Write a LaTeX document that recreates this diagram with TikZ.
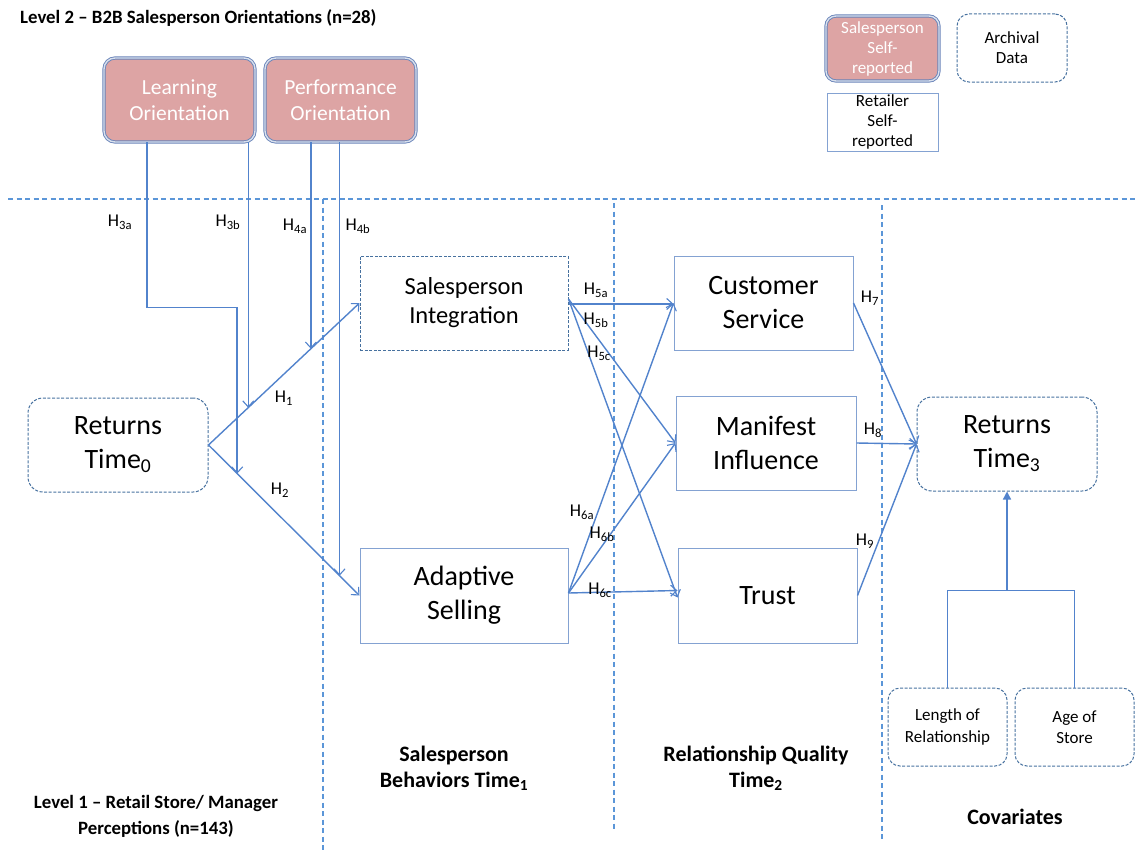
\documentclass[tikz,border=0pt]{standalone}
\usepackage{fontspec}
\setmainfont{Carlito}
\usetikzlibrary{arrows.meta,calc}

\definecolor{lineblue}{HTML}{5283CC}
\definecolor{sepblue}{HTML}{5B96D8}
\definecolor{boxblue}{HTML}{47719F}
\definecolor{thinblue}{HTML}{84A2D2}
\definecolor{pinkfill}{HTML}{DDA4A4}
\definecolor{rimblue}{HTML}{6883B8}

\tikzset{
  sepline/.style={draw=sepblue, line width=1.2pt, dash pattern=on 5pt off 3.5pt},
  dashbox/.style={draw=boxblue, line width=1pt, dash pattern=on 3pt off 1.6pt,
                  align=center, inner sep=0pt},
  plainbox/.style={draw=thinblue, line width=1pt, align=center, inner sep=0pt},
  pinkbox/.style={fill=pinkfill, draw=rimblue, line width=0.9pt,
                  double=rimblue!25, double distance=1.4pt, rounded corners=11pt,
                  text=white, align=center, inner sep=0pt},
  link/.style={draw=lineblue, line width=1.4pt,
               -{Straight Barb[length=6pt,width=11pt,line width=1.1pt]}},
  plainlink/.style={draw=lineblue, line width=1.4pt},
  hyp/.style={font=\fontsize{18}{21}\selectfont, inner sep=0pt},
  bigtxt/.style={font=\fontsize{28}{34}\selectfont},
  midtxt/.style={font=\fontsize{24.5}{29}\selectfont},
  orienttxt/.style={font=\fontsize{21.5}{26}\selectfont},
  smalltxt/.style={font=\fontsize{17}{20}\selectfont},
  headtxt/.style={font=\bfseries\fontsize{18.8}{26}\selectfont, align=center, inner sep=0pt},
  coltxt/.style={font=\bfseries\fontsize{22}{26}\selectfont, align=center, inner sep=0pt},
}

\begin{document}
\begin{tikzpicture}[x=1pt, y=-1pt]
\useasboundingbox (0,0) rectangle (1137,851);

% level and time separators
\draw[sepline] (8,199) -- (1137,199);
\draw[sepline] (323,199) -- (323,851);
\draw[sepline] (614,203) -- (614,830);
\draw[sepline] (882,205) -- (882,840);

% headings
\node[headtxt, anchor=west] (lvltwo) at (20,18) {Level 2 -- B2B Salesperson Orientations (n=28)};
\node[headtxt] (lvlone) at (156,816) {Level 1 -- Retail Store/ Manager\\Perceptions (n=143)};
\node[coltxt] (behav) at (454,768) {Salesperson\\Behaviors Time\textsubscript{1}};
\node[coltxt] (relq) at (756,768) {Relationship Quality\\Time\textsubscript{2}};
\node[coltxt] (covar) at (1015,817) {Covariates};

% legend
\node[pinkbox, smalltxt, minimum width=113pt, minimum height=65pt, rounded corners=10pt] (legsp) at (882.5,48.5) {Salesperson\\Self-\\reported};
\node[dashbox, smalltxt, minimum width=110pt, minimum height=68pt, rounded corners=12pt] (legarch) at (1012,48) {Archival\\Data};
\node[plainbox, smalltxt, minimum width=111pt, minimum height=58pt] (legret) at (882.5,122) {Retailer\\Self-\\reported};

% level 2 constructs
\node[pinkbox, orienttxt, minimum width=151pt, minimum height=84pt] (learn) at (179.5,100) {Learning\\Orientation};
\node[pinkbox, orienttxt, minimum width=151pt, minimum height=84pt] (perf) at (340.5,100) {Performance\\Orientation};

% level 1 constructs
\node[dashbox, bigtxt, minimum width=180pt, minimum height=94pt, rounded corners=15pt] (ret0) at (118,445) {Returns\\Time\textsubscript{0}};
\node[dashbox, midtxt, minimum width=208pt, minimum height=94pt] (sint) at (464,303) {Salesperson\\Integration};
\node[plainbox, bigtxt, minimum width=208pt, minimum height=95pt] (adapt) at (464,595.5) {Adaptive\\Selling};
\node[plainbox, bigtxt, minimum width=179pt, minimum height=94pt] (cust) at (763.5,303) {Customer\\Service};
\node[plainbox, bigtxt, minimum width=180pt, minimum height=94pt] (manif) at (766,443) {Manifest\\Influence};
\node[plainbox, bigtxt, minimum width=179pt, minimum height=95pt] (trust) at (767.5,595.5) {Trust};
\node[dashbox, bigtxt, minimum width=180pt, minimum height=94pt, rounded corners=15pt] (ret3) at (1007,444) {Returns\\Time\textsubscript{3}};
\node[dashbox, font=\fontsize{17}{21.5}\selectfont, minimum width=119pt, minimum height=78pt, rounded corners=12pt] (lenrel) at (947.5,727) {Length of\\Relationship};
\node[dashbox, font=\fontsize{17}{21.5}\selectfont, minimum width=119pt, minimum height=78pt, rounded corners=12pt] (age) at (1074.5,727) {Age of\\Store};

% H1, H2
\draw[link] (ret0.east) -- (sint.west);
\draw[link] (ret0.east) -- (adapt.west);

% cross-level moderation
\coordinate (j3a) at ($(ret0.east)!0.19!(adapt.west)$);
\coordinate (j3b) at ($(ret0.east)!0.263!(sint.west)$);
\coordinate (j4a) at ($(ret0.east)!0.678!(sint.west)$);
\coordinate (j4b) at ($(ret0.east)!0.868!(adapt.west)$);
\draw[link] ([xshift=-32.5pt]learn.south) |- ($(j3a)+(0,-166)$) -- (j3a);
\draw[link] (learn.south -| j3b) -- (j3b);
\draw[link] (perf.south -| j4a) -- (j4a);
\draw[link] (perf.south -| j4b) -- (j4b);

% behaviors to relationship quality
\draw[link] ([yshift=-1pt]sint.east) -- ([yshift=-1pt]cust.west);
\draw[link] ([yshift=4pt]sint.east) -- (manif.west);
\draw[link] ([yshift=4pt]sint.east) -- ([yshift=-2pt]trust.west);
\draw[link] ([yshift=2.5pt]adapt.east) -- (cust.west);
\draw[link] ([yshift=2.5pt]adapt.east) -- (manif.west);
\draw[link] ([yshift=2.5pt]adapt.east) -- ([yshift=5pt]trust.west);

% relationship quality to returns
\draw[link] (cust.east) -- (ret3.west);
\draw[link] (manif.east) -- (ret3.west);
\draw[link] (trust.east) -- (ret3.west);

% covariates
\coordinate (cj) at ($(ret3.south)+(0,99)$);
\draw[plainlink] (lenrel.north) |- (cj) -| (age.north);
\draw[draw=lineblue, line width=1.4pt, -{Triangle[length=8pt,width=8pt]}] (cj) -- (ret3.south);

% hypothesis labels
\node[hyp] (h3a) at (120,222) {H\textsubscript{3a}};
\node[hyp] (h3b) at (228,222) {H\textsubscript{3b}};
\node[hyp] (h4a) at (295,226) {H\textsubscript{4a}};
\node[hyp] (h4b) at (358,226) {H\textsubscript{4b}};
\node[hyp] (h1) at (284,398) {H\textsubscript{1}};
\node[hyp] (h2) at (280,490) {H\textsubscript{2}};
\node[hyp] (h5a) at (596,290) {H\textsubscript{5a}};
\node[hyp] (h5b) at (596,320) {H\textsubscript{5b}};
\node[hyp] (h5c) at (599,353) {H\textsubscript{5c}};
\node[hyp] (h6a) at (582,512) {H\textsubscript{6a}};
\node[hyp] (h6b) at (602,534) {H\textsubscript{6b}};
\node[hyp] (h6c) at (600,590) {H\textsubscript{6c}};
\node[hyp] (h7) at (870,298) {H\textsubscript{7}};
\node[hyp] (h8) at (873,430) {H\textsubscript{8}};
\node[hyp] (h9) at (865,541) {H\textsubscript{9}};
\end{tikzpicture}
\end{document}
